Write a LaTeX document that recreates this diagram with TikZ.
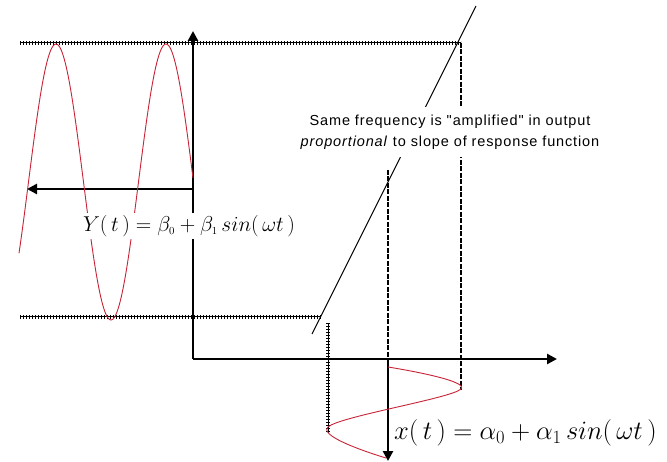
\documentclass[tikz,border=0pt]{standalone}
\usepackage{fix-cm}
\usepackage{fontspec}
\newfontfamily\arialfont[LetterSpace=6]{Liberation Sans}
\usetikzlibrary{arrows.meta}
\definecolor{curvered}{RGB}{200,35,55}
\tikzset{
  axisline/.style={line width=2.6pt, -{Triangle[length=10pt,width=10pt]}},
  hatchline/.style={line width=1pt, postaction={draw, line width=3.5pt, dash pattern=on 0.8pt off 2.2pt}},
  dashline/.style={line width=2.2pt, dash pattern=on 5pt off 1.5pt},
  slopeline/.style={line width=0.9pt},
  signal/.style={curvered, line width=0.9pt},
  whitelabel/.style={fill=white, inner sep=2pt},
}
\begin{document}
\begin{tikzpicture}[x=1pt,y=-1pt]
\useasboundingbox (0,0) rectangle (667,462);
% key points
\coordinate (O) at (193,359);
\coordinate (Otop) at (193,31);
\coordinate (Xend) at (557,359);
\coordinate (Tout) at (193,189);
\coordinate (Toutend) at (27,189);
\coordinate (Ti) at (388,359);
\coordinate (Titop) at (388,170);
\coordinate (Tiend) at (388,461);
\coordinate (TopL) at (20,43);
\coordinate (TopR) at (461,43);
\coordinate (BotL) at (20,317);
\coordinate (BotR) at (321,317);
\coordinate (PeakV) at (461,390);
\coordinate (TrL1) at (328,323);
\coordinate (TrL2) at (328,433);
\coordinate (S1) at (476,6);
\coordinate (S2) at (312,334);
% guide lines
\draw[hatchline] (TopL) -- (TopR);
\draw[hatchline] (BotL) -- (BotR);
\draw[dashline] (TopR) -- (PeakV);
\draw[hatchline] (TrL1) -- (TrL2);
\draw[dashline] (Titop) -- (Ti);
\draw[slopeline] (S1) -- (S2);
% axes
\draw[axisline] (O) -- (Otop);
\draw[axisline] (O) -- (Xend);
\draw[axisline] (Tout) -- (Toutend);
\draw[axisline] (Ti) -- (Tiend);
% signals
\draw[signal] plot[domain=19:193, samples=150] (\x, {182-138*cos(3.272727*(\x-56))});
\draw[signal] plot[smooth, tension=0.55] coordinates {(388,367) (461,389) (328,427) (386,458)};
% labels
\node[whitelabel, inner xsep=3pt, inner ysep=8pt, align=center, font=\arialfont\fontsize{14.5}{21}\selectfont] (note) at (450,132)
  {Same frequency is "amplified" in output\\\textit{proportional} to slope of response function};
\node[whitelabel, font=\fontsize{21.5}{25}\selectfont] (yeq) at (189,226)
  {$Y(\,t\,)=\beta_{\scriptscriptstyle 0}+\beta_{\scriptscriptstyle 1}\,sin(\,\omega t\,)$};
\node[anchor=west, inner sep=0pt, font=\fontsize{26.5}{30}\selectfont] (xeq) at (394,433)
  {$x(\,t\,)=\alpha_0+\alpha_1\,sin(\,\omega t\,)$};
\end{tikzpicture}
\end{document}
